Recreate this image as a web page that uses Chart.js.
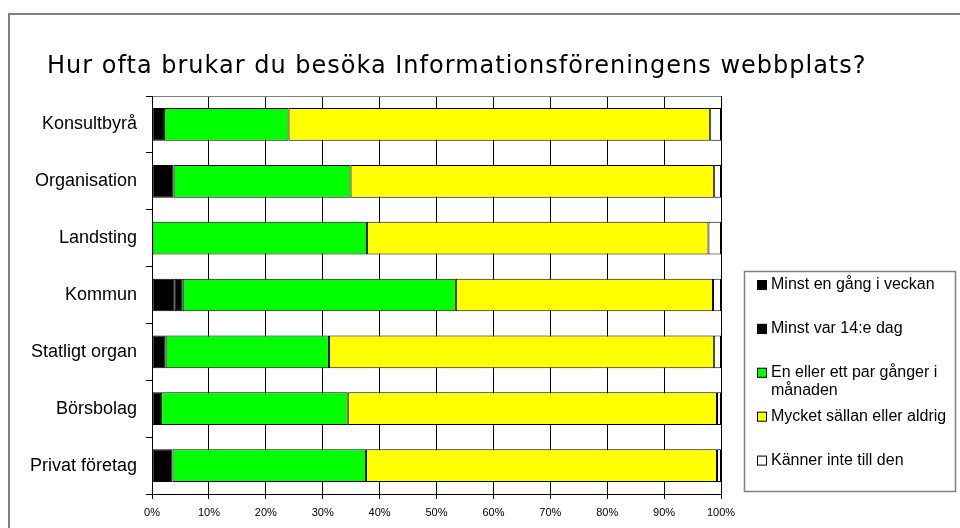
<!DOCTYPE html>
<html>
<head>
<meta charset="utf-8">
<script src="https://cdn.jsdelivr.net/npm/chart.js@4/dist/chart.umd.min.js"></script>
<style>
  html, body { margin: 0; padding: 0; background: #fff; }
  #wrap { width: 960px; height: 528px; position: relative; }
</style>
</head>
<body>
<div id="wrap"><canvas id="chart"></canvas></div>
<script>
// categories, top to bottom
var groups = ['Konsultbyrå', 'Organisation', 'Landsting', 'Kommun', 'Statligt organ', 'Börsbolag', 'Privat företag'];

// answers in percent
var varjeVecka  = [2.1, 3.8, 0.0, 4.0, 2.4, 1.6, 3.6];
var var14eDag   = [0.0, 0.0, 0.0, 1.4, 0.0, 0.0, 0.0];
var perManad    = [21.9, 31.1, 37.8, 48.0, 28.7, 32.8, 34.0];
var sallan      = [74.1, 63.9, 60.0, 45.2, 67.7, 64.9, 61.7];
var kannerInte  = [1.9, 1.2, 2.2, 1.4, 1.2, 0.7, 0.7];

var seriesNames = [
  'Minst en gång i veckan',
  'Minst var 14:e dag',
  ['En eller ett par gånger i', 'månaden'],
  'Mycket sällan eller aldrig',
  'Känner inte till den'
];
var seriesColors = ['#000000', '#000000', '#00ff00', '#ffff00', '#ffffff'];
var xTicks = [0, 10, 20, 30, 40, 50, 60, 70, 80, 90, 100];
var titleText = 'Hur ofta brukar du besöka Informationsföreningens webbplats?';

var values = [varjeVecka, var14eDag, perManad, sallan, kannerInte];
var datasets = [];
for (var i = 0; i < values.length; i++) {
  datasets.push({
    label: seriesNames[i],
    data: values[i],
    backgroundColor: seriesColors[i],
    borderColor: '#000',
    borderWidth: 1,
    borderSkipped: false,
    barPercentage: 0.575,
    categoryPercentage: 1.0
  });
}

// frame, title and the boxed legend
var decor = {
  id: 'decor',
  beforeDraw: function(chart) {
    var ctx = chart.ctx;
    ctx.save();
    ctx.fillStyle = '#fff';
    ctx.fillRect(0, 0, chart.width, chart.height);
    ctx.strokeStyle = '#808080';
    ctx.lineWidth = 2;
    ctx.beginPath();
    ctx.moveTo(9, chart.height + 2);
    ctx.lineTo(9, 14);
    ctx.lineTo(chart.width + 2, 14);
    ctx.stroke();
    ctx.restore();
  },
  afterDraw: function(chart) {
    var ctx = chart.ctx;
    ctx.save();
    // title
    ctx.fillStyle = '#000';
    ctx.font = '24px "DejaVu Sans"';
    ctx.letterSpacing = '1px';
    ctx.textBaseline = 'alphabetic';
    ctx.textAlign = 'left';
    ctx.fillText(titleText, 47, 73);
    ctx.letterSpacing = '0px';

    // legend
    var lx = 744, ly = 271, lw = 211, lh = 220;
    ctx.strokeStyle = '#808080';
    ctx.lineWidth = 1.5;
    ctx.strokeRect(lx + 0.5, ly + 0.5, lw, lh);
    ctx.font = '16px "Liberation Sans", Arial, sans-serif';
    ctx.textBaseline = 'middle';
    var ds = chart.data.datasets;
    for (var k = 0; k < ds.length; k++) {
      var y = 285 + 43.9 * k;
      ctx.fillStyle = ds[k].backgroundColor;
      ctx.fillRect(757, y - 5, 10, 10);
      ctx.strokeStyle = '#000';
      ctx.lineWidth = 1;
      ctx.strokeRect(757.5, y - 4.5, 9, 9);
      ctx.fillStyle = '#000';
      var lines = [].concat(ds[k].label);
      for (var j = 0; j < lines.length; j++) {
        ctx.fillText(lines[j], 771, y + j * 18);
      }
    }
    ctx.restore();
  }
};

new Chart(document.getElementById('chart'), {
  type: 'bar',
  data: { labels: groups, datasets: datasets },
  options: {
    indexAxis: 'y',
    responsive: true,
    maintainAspectRatio: false,
    animation: false,
    layout: { padding: { left: 0, top: 96, right: 239, bottom: 0 } },
    plugins: {
      legend: { display: false },
      title: { display: false },
      tooltip: { enabled: false }
    },
    scales: {
      x: {
        stacked: true,
        min: 0,
        max: 100,
        afterBuildTicks: function(scale) {
          scale.ticks = xTicks.map(function(v) { return { value: v }; });
        },
        afterFit: function(scale) { scale.height = 34; },
        ticks: {
          color: '#000',
          padding: 7,
          maxRotation: 0,
          font: { family: '"Liberation Sans", Arial, sans-serif', size: 11 },
          callback: function(v) { return v + '%'; }
        },
        grid: { color: '#000', lineWidth: 1, tickLength: 5, tickColor: '#000' },
        border: { color: '#000', width: 1 }
      },
      y: {
        stacked: true,
        afterFit: function(scale) { scale.width = 152; },
        ticks: {
          color: '#000',
          padding: 9,
          font: { family: '"Liberation Sans", Arial, sans-serif', size: 18 }
        },
        grid: {
          offset: true,
          drawOnChartArea: true,
          tickLength: 6,
          tickColor: '#000',
          color: function(c) { return c.index === 0 ? '#808080' : 'rgba(0,0,0,0)'; }
        },
        border: { color: '#000', width: 1 }
      }
    }
  },
  plugins: [decor]
});
</script>
</body>
</html>
